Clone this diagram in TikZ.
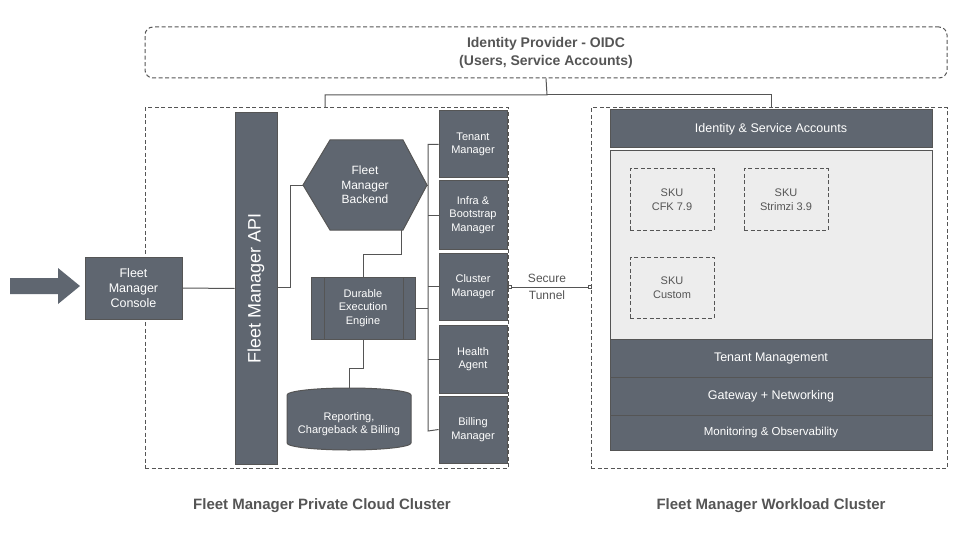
\documentclass[tikz,border=0pt]{standalone}
\usepackage{fontspec}
\setmainfont{Liberation Sans}
\definecolor{dk}{HTML}{5F6670}
\definecolor{tx}{HTML}{555555}
\definecolor{ln}{HTML}{555555}
\begin{document}
\begin{tikzpicture}[x=1pt,y=-1pt,line width=1pt,
 box/.style={fill=dk,draw=ln,text=white,align=center,font=\fontsize{11}{13.5}\selectfont,inner sep=0},
 cl/.style={draw=ln,dash pattern=on 4pt off 2.5pt},
 sku/.style={draw=ln,dash pattern=on 4pt off 2.5pt,align=center,font=\fontsize{11}{13.5}\selectfont,text=tx,inner sep=0},
 con/.style={draw=ln}]
\useasboundingbox (0,0) rectangle (960,540);
\fill[white] (0,0) rectangle (960,540);
\node[cl,rounded corners=8pt,minimum width=802pt,minimum height=51pt,text=tx,font=\bfseries\fontsize{14}{18}\selectfont,align=center] (idp) at (546,52.5) {Identity Provider - OIDC\\(Users, Service Accounts)};
\node[cl,minimum width=363pt,minimum height=360pt] (lc) at (326.5,288) {};
\node[cl,minimum width=356pt,minimum height=360pt] (rc) at (769,288) {};
\draw[con] (idp.south) -- (547,95) -- (325,95) -- (325,108);
\draw[con] (547,95) -- (771,95) -- (771,108);
\fill[dk] (10,278) -- (58,278) -- (58,268) -- (80,286) -- (58,304) -- (58,294) -- (10,294) -- cycle;
\node[box,minimum width=97pt,minimum height=62pt,font=\fontsize{12.5}{15}\selectfont] (con) at (133.5,288) {Fleet\\Manager\\Console};
\node[box,minimum width=42pt,minimum height=351pt] (api) at (256,288.5) {};
\node[rotate=90,text=white,font=\fontsize{18}{20}\selectfont] at (256,288.5) {Fleet Manager API};
\draw[fill=dk,draw=ln] (303,185) -- (330,140) -- (403,140) -- (427,185) -- (403,230) -- (330,230) -- cycle;
\coordinate (hexw) at (303,185); \coordinate (hexe) at (427,185);
\node[text=white,align=center,font=\fontsize{12}{14.5}\selectfont] (hex) at (365,185) {Fleet\\Manager\\Backend};
\node[box,minimum width=104pt,minimum height=62pt] (dee) at (363,308) {Durable\\Execution\\Engine};
\draw[ln] (324,277) -- (324,339) (403,277) -- (403,339);
\draw[fill=dk,draw=ln] (287,395) -- (287,443) arc[start angle=180,end angle=0,x radius=62,y radius=7] -- (411,395) arc[start angle=0,end angle=-180,x radius=62,y radius=7] -- cycle;
\coordinate (dbn) at (349,388);
\node[text=white,align=center,font=\fontsize{11}{13.5}\selectfont] (db) at (349,424) {Reporting,\\Chargeback \& Billing};
\foreach \n/\t/\y/\h in {tm/Tenant\\Manager/144.5/67, ib/Infra \&\\Bootstrap\\Manager/215/68, cm/Cluster\\Manager/286.5/67, ha/Health\\Agent/359/68, bm/Billing\\Manager/429.5/67}
  \node[box,minimum width=68pt,minimum height=\h pt] (\n) at (473,\y) {\t};
\draw[con] (tm.west) -- (428,144.5) -- (428,431) -- (bm.west);
\draw[con] (ib.west) -- (428,215);
\draw[con] (cm.west) -- (428,286.5);
\draw[con] (ha.west) -- (428,359);
\draw[con] (hexe) -- (428,185);
\draw[con] (dee.east) -- (428,308);
\draw[con] (con.east) -- (api.west);
\draw[con] (277,287) -- (290,287) -- (290,185) -- (hexw);
\draw[con] (401,230) -- (401,254) -- (363,254) -- (dee.north);
\draw[con] (dee.south) -- (363,368) -- (349,368) -- (dbn);
\coordinate (t1) at (510,287); \coordinate (t2) at (589,287);
\draw[con] (t1) -- (t2);
\draw[ln,fill=white,line width=0.8pt] (508,285.5) rectangle (511,288.5) (588,285.5) rectangle (591,288.5);
\node[text=tx,align=center,font=\fontsize{12}{17}\selectfont] at (547,287) {Secure\\Tunnel};
\node[box,minimum width=322pt,minimum height=38pt,font=\fontsize{12.5}{15}\selectfont] (isa) at (771,129) {Identity \& Service Accounts};
\node[draw=ln,fill=black!7,minimum width=322pt,minimum height=188pt] (pl) at (771,245) {};
\node[sku,minimum width=84pt,minimum height=61pt] (s1) at (672,199.5) {SKU\\CFK 7.9};
\node[sku,minimum width=84pt,minimum height=61pt] (s2) at (786,199.5) {SKU\\Strimzi 3.9};
\node[sku,minimum width=84pt,minimum height=61pt] (s3) at (672,287.5) {SKU\\Custom};
\node[box,minimum width=322pt,minimum height=38pt,font=\fontsize{12.5}{15}\selectfont] (tmg) at (771,358) {Tenant Management};
\node[box,minimum width=322pt,minimum height=38pt,font=\fontsize{12.5}{15}\selectfont] (gw) at (771,396) {Gateway + Networking};
\node[box,minimum width=322pt,minimum height=35pt,font=\fontsize{11.5}{14}\selectfont] (mo) at (771,432.5) {Monitoring \& Observability};
\node[text=tx,font=\bfseries\fontsize{15}{17}\selectfont] (l1) at (322,506) {Fleet Manager Private Cloud Cluster};
\node[text=tx,font=\bfseries\fontsize{15}{17}\selectfont] (l2) at (771,506) {Fleet Manager Workload Cluster};
\end{tikzpicture}
\end{document}
